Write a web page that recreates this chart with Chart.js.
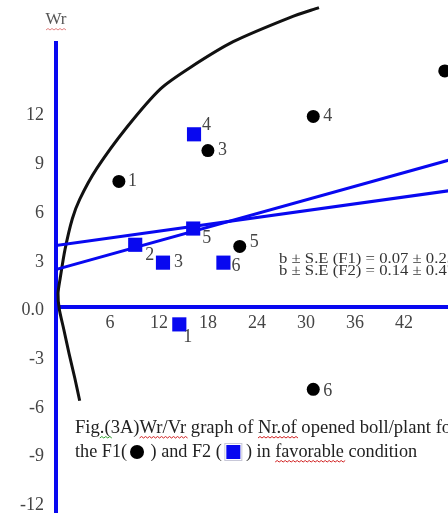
<!DOCTYPE html>
<html>
<head>
<meta charset="utf-8">
<script src="https://cdn.jsdelivr.net/npm/chart.js@4/dist/chart.umd.min.js"></script>
<style>
  html, body { margin: 0; padding: 0; background: #fff; overflow: hidden; }
  #wrap { position: relative; width: 448px; height: 513px; }
</style>
</head>
<body>
<div id="wrap"><canvas id="c" width="448" height="513"></canvas></div>
<script>
// Wr/Vr analysis: Vr on the x axis, Wr on the y axis
const f1Labels = ['1', '2', '3', '4', '5', '6'];
const f1Vr = [7.1, 47.0, 18.0, 30.9, 21.9, 30.9];
const f1Wr = [7.7, 14.5, 9.6, 11.7, 3.7, -5.1];

const f2Labels = ['1', '2', '3', '4', '5', '6'];
const f2Vr = [14.5, 9.1, 12.5, 16.3, 16.2, 19.9];
const f2Wr = [-1.1, 3.8, 2.7, 10.6, 4.8, 2.7];

// regression lines Wr = a + b·Vr  (F1, F2)
const regIntercept = [3.8, 2.36];
const regSlope = [0.07, 0.14];
const regSE = [0.25, 0.47];
const regVrEnds = [-1, 48];

// limiting parabola, traced point by point
const parabolaVr = [2.3, 1.7, 1.0, 0.35, -0.2, -0.35, -0.1, 0.5, 1.4, 2.3, 4.4, 8.1, 12.2, 15.8, 21.1, 28.1, 31.6];
const parabolaWr = [-5.8, -4.4, -2.9, -1.4, -0.15, 0.8, 1.7, 3.5, 5.4, 6.6, 8.5, 11.05, 13.4, 14.7, 16.3, 17.8, 18.4];

const xTickValues = [6, 12, 18, 24, 30, 36, 42];
const yTickValues = [12, 9, 6, 3, 0, -3, -6, -9, -12];
const yTickLabels = ['12', '9', '6', '3', '0.0', '-3', '-6', '-9', '-12'];

const BLUE = '#0808f0';
const SERIF = '"Liberation Serif", "Times New Roman", serif';

const toPts = (xs, ys) => xs.map((x, i) => ({ x: x, y: ys[i] }));
const regLine = i => regVrEnds.map(v => ({ x: v, y: regIntercept[i] + regSlope[i] * v }));

// label placement next to each marker (dx, dy in px, text left-aligned)
const f1LabelShift = [[9, 0], [9, 0], [10, 0], [10, 0], [10, -4], [10, 2]];
const f2LabelShift = [[4, 13], [10, 10], [11, 0], [8, -9], [9, 10], [8, 4]];

function squiggle(ctx, x1, x2, y, color) {
  ctx.save();
  ctx.strokeStyle = color;
  ctx.lineWidth = 1;
  ctx.beginPath();
  ctx.moveTo(x1, y);
  let up = true;
  for (let x = x1; x < x2; x += 2) {
    ctx.lineTo(x + 2, up ? y - 1.5 : y);
    up = !up;
  }
  ctx.stroke();
  ctx.restore();
}

const textPlugin = {
  id: 'figureText',
  afterDatasetsDraw(chart) {
    const ctx = chart.ctx;
    const xs = chart.scales.x, ys = chart.scales.y;
    ctx.save();
    ctx.font = '18px ' + SERIF;
    ctx.fillStyle = '#444';
    ctx.textAlign = 'left';
    ctx.textBaseline = 'middle';
    f1Labels.forEach((t, i) => {
      const px = xs.getPixelForValue(f1Vr[i]), py = ys.getPixelForValue(f1Wr[i]);
      ctx.fillText(t, px + f1LabelShift[i][0], py + f1LabelShift[i][1]);
    });
    f2Labels.forEach((t, i) => {
      const px = xs.getPixelForValue(f2Vr[i]), py = ys.getPixelForValue(f2Wr[i]);
      ctx.fillText(t, px + f2LabelShift[i][0], py + f2LabelShift[i][1]);
    });
    ctx.restore();
  },
  afterDraw(chart) {
    const ctx = chart.ctx;
    ctx.save();
    // axis title
    ctx.font = '17px ' + SERIF;
    ctx.fillStyle = '#555';
    ctx.textAlign = 'center';
    ctx.textBaseline = 'middle';
    ctx.fillText('Wr', 56, 20);
    squiggle(ctx, 46, 66, 30, '#e08080');

    // regression statistics
    ctx.fillStyle = '#333';
    ctx.textAlign = 'left';
    ctx.font = '16.7px ' + SERIF;
    ['F1', 'F2'].forEach((g, i) => {
      const txt = 'b \u00B1 S.E (' + g + ') = ' + regSlope[i].toFixed(2) + ' \u00B1 ' + regSE[i].toFixed(2);
      ctx.save();
      ctx.translate(279, 259 + i * 12);
      ctx.scale(1, 0.85);
      ctx.fillText(txt, 0, 0);
      ctx.restore();
    });

    // caption
    ctx.font = '18.6px ' + SERIF;
    ctx.fillStyle = '#222';
    const x0 = 75, y1 = 428, y2 = 452;
    const line1 = 'Fig.(3A)Wr/Vr graph of Nr.of opened boll/plant for';
    ctx.fillText(line1, x0, y1);
    const w = s => ctx.measureText(s).width;
    const wr0 = x0 + w('Fig.(3A)');
    squiggle(ctx, wr0, wr0 + w('Wr/Vr'), y1 + 10, '#d02020');
    const nr0 = x0 + w('Fig.(3A)Wr/Vr graph of ');
    squiggle(ctx, nr0, nr0 + w('Nr.of'), y1 + 10, '#d02020');
    squiggle(ctx, x0 + w('Fig'), x0 + w('Fig.('), y1 + 10, '#30a030');

    ctx.font = '18.2px ' + SERIF;
    let x = x0;
    ctx.fillText('the F1(', x, y2); x += w('the F1(') + 3;
    ctx.fillStyle = '#000';
    ctx.beginPath(); ctx.arc(x + 7, y2, 7, 0, Math.PI * 2); ctx.fill();
    x += 16;
    ctx.fillStyle = '#222';
    ctx.fillText(' ) and F2 ( ', x, y2); x += w(' ) and F2 ( ');
    ctx.fillStyle = BLUE;
    ctx.fillRect(x, y2 - 7, 14, 14);
    ctx.strokeStyle = '#c8c8d8'; ctx.lineWidth = 1;
    ctx.strokeRect(x - 1.5, y2 - 8.5, 17, 17);
    x += 15;
    ctx.fillStyle = '#222';
    ctx.fillText(' ) in ', x, y2); x += w(' ) in ');
    ctx.fillText('favorable', x, y2);
    squiggle(ctx, x, x + w('favorable'), y2 + 10, '#d02020');
    x += w('favorable');
    ctx.fillText(' condition', x, y2);
    ctx.restore();
  }
};

new Chart(document.getElementById('c'), {
  type: 'scatter',
  data: {
    datasets: [
      { label: 'F1', data: toPts(f1Vr, f1Wr), pointStyle: 'circle', pointRadius: 6.5,
        backgroundColor: '#000', borderWidth: 0, order: 1 },
      { label: 'F2', data: toPts(f2Vr, f2Wr), pointStyle: 'rect', pointRadius: 10,
        backgroundColor: BLUE, borderWidth: 0, order: 2 },
      { label: 'b F1', data: regLine(0), showLine: true, pointRadius: 0,
        borderColor: BLUE, borderWidth: 3, order: 3 },
      { label: 'b F2', data: regLine(1), showLine: true, pointRadius: 0,
        borderColor: BLUE, borderWidth: 3, order: 4 },
      { label: 'parabola', data: toPts(parabolaVr, parabolaWr), showLine: true, pointRadius: 0,
        borderColor: '#111', borderWidth: 3, tension: 0.25, clip: false, order: 5 }
    ]
  },
  options: {
    responsive: false,
    animation: false,
    events: [],
    layout: { autoPadding: false, padding: { top: 43, left: 0, right: 0, bottom: 0 } },
    plugins: { legend: { display: false }, tooltip: { enabled: false } },
    scales: {
      x: {
        type: 'linear',
        position: { y: 0 },
        min: -0.6, max: 47.4,
        grid: { display: false, drawTicks: false },
        border: { display: true, color: BLUE, width: 4 },
        afterBuildTicks: s => { s.ticks = xTickValues.map(v => ({ value: v })); },
        afterFit: s => { s.paddingLeft = 0; s.paddingRight = 0; },
        ticks: { font: { family: SERIF, size: 18 }, color: '#444', padding: 6,
                 maxRotation: 0, autoSkip: false }
      },
      y: {
        type: 'linear',
        position: 'left',
        min: -12.71, max: 16.22,
        grid: { display: false, drawTicks: false },
        border: { display: true, color: BLUE, width: 4 },
        afterBuildTicks: s => { s.ticks = yTickValues.map(v => ({ value: v })); },
        afterFit: s => { s.width = 56; s.paddingTop = 0; s.paddingBottom = 0; },
        ticks: { font: { family: SERIF, size: 18 }, color: '#444', padding: 12, autoSkip: false,
                 labelOffset: 4,
                 callback: v => yTickLabels[yTickValues.indexOf(v)] }
      }
    }
  },
  plugins: [textPlugin]
});
</script>
</body>
</html>
